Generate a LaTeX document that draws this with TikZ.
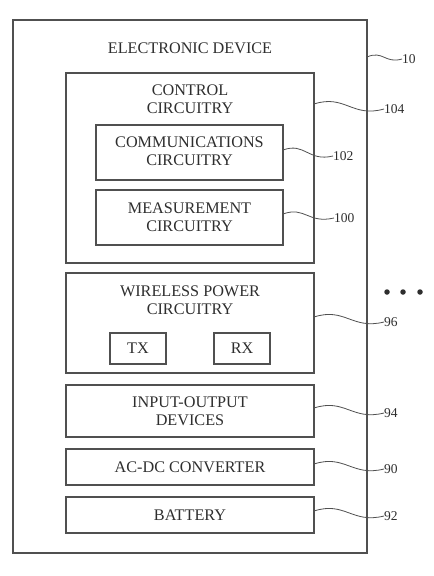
\documentclass[tikz,border=0pt]{standalone}
\usepackage{fontspec}
\setmainfont{Liberation Serif}
\definecolor{ink}{HTML}{2E2E2E}
\definecolor{edge}{HTML}{505050}
\begin{document}
\begin{tikzpicture}[x=1pt,y=-1pt,
  box/.style={draw=edge,line width=1.4pt,rectangle,inner sep=0pt},
  txt/.style={text=ink,font=\fontsize{16.2}{18}\selectfont,align=center,inner sep=0pt},
  num/.style={text=ink,font=\fontsize{13.5}{15}\selectfont,anchor=west,inner sep=0pt},
  lead/.style={draw=edge,line width=0.8pt},
  dot/.style={circle,fill=ink,inner sep=0pt,minimum size=5.5pt}]
\useasboundingbox (0,0) rectangle (434,576);
% boxes
\node[box,minimum width=354pt,minimum height=533pt] (outer) at (190,286.5) {};
\node[box,minimum width=248pt,minimum height=190pt] (ctrl) at (190,168) {};
\node[box,minimum width=187pt,minimum height=55pt] (comm) at (189.5,152.5) {};
\node[box,minimum width=187pt,minimum height=55pt] (meas) at (189.5,217.5) {};
\node[box,minimum width=248pt,minimum height=100pt] (wpc) at (190,323) {};
\node[box,minimum width=56pt,minimum height=31pt] (tx) at (138,348.5) {};
\node[box,minimum width=56pt,minimum height=31pt] (rx) at (242,348.5) {};
\node[box,minimum width=248pt,minimum height=52pt] (io) at (190,411) {};
\node[box,minimum width=248pt,minimum height=36pt] (acdc) at (190,467) {};
\node[box,minimum width=248pt,minimum height=36pt] (bat) at (190,515) {};
% texts
\node[txt] (t-outer) at (190,48) {ELECTRONIC DEVICE};
\node[txt] (t-ctrl) at (190,99) {CONTROL\\CIRCUITRY};
\node[txt] (t-comm) at (189.5,151) {COMMUNICATIONS\\CIRCUITRY};
\node[txt] (t-meas) at (189.5,217) {MEASUREMENT\\CIRCUITRY};
\node[txt] (t-wpc) at (190,300) {WIRELESS POWER\\CIRCUITRY};
\node[txt] (t-tx) at (138,348.5) {TX};
\node[txt] (t-rx) at (242,348.5) {RX};
\node[txt] (t-io) at (190,411) {INPUT-OUTPUT\\DEVICES};
\node[txt] (t-acdc) at (190,467) {AC-DC CONVERTER};
\node[txt] (t-bat) at (190,515) {BATTERY};
% reference numbers
\node[num] (n10) at (402,59) {10};
\node[num] (n104) at (384,109) {104};
\node[num] (n102) at (333,156) {102};
\node[num] (n100) at (334,218) {100};
\node[num] (n96) at (384,322) {96};
\node[num] (n94) at (384,413) {94};
\node[num] (n90) at (384,469) {90};
\node[num] (n92) at (384,516) {92};
% leader start points
\coordinate (s10) at (367,57);
\coordinate (s104) at (314,104);
\coordinate (s102) at (283,150);
\coordinate (s100) at (283,214);
\coordinate (s96) at (314,317);
\coordinate (s94) at (314,408);
\coordinate (s90) at (314,464);
\coordinate (s92) at (314,511);
\draw[lead] (s10) .. controls (383,50) and (385,64) .. (n10.west);
\draw[lead] (s104) .. controls (345,94) and (352,118) .. (n104.west);
\draw[lead] (s102) .. controls (305,142) and (308,162) .. (n102.west);
\draw[lead] (s100) .. controls (305,206) and (308,224) .. (n100.west);
\draw[lead] (s96) .. controls (345,307) and (352,330) .. (n96.west);
\draw[lead] (s94) .. controls (345,398) and (352,421) .. (n94.west);
\draw[lead] (s90) .. controls (345,454) and (352,477) .. (n90.west);
\draw[lead] (s92) .. controls (345,501) and (352,524) .. (n92.west);
% dots
\node[dot] (d1) at (387,292) {};
\node[dot] (d2) at (403,292) {};
\node[dot] (d3) at (420,292) {};
\end{tikzpicture}
\end{document}
